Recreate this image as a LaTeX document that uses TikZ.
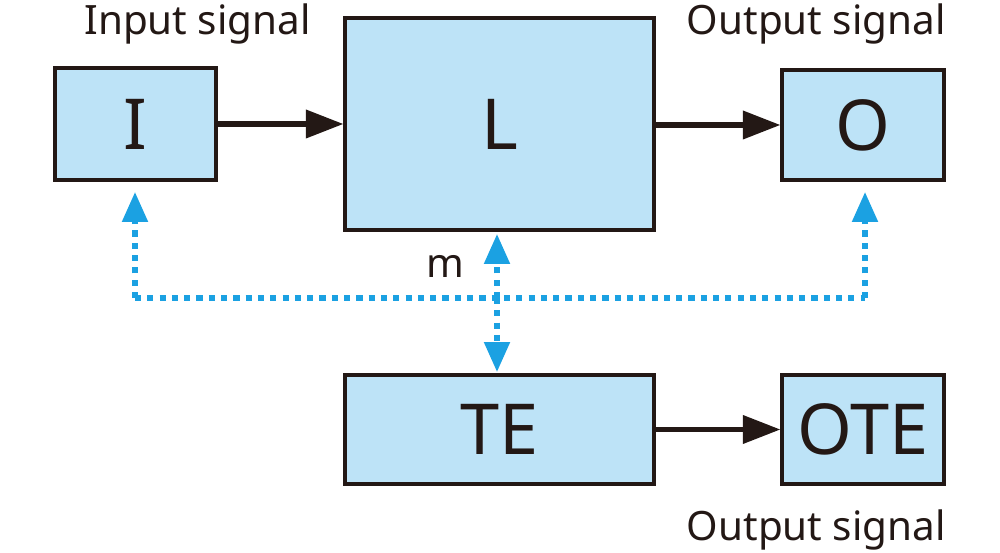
\documentclass[tikz,border=0pt]{standalone}
\usepackage{fontspec}
\setmainfont{Noto Sans}
\usetikzlibrary{arrows.meta}
\definecolor{boxfill}{HTML}{BDE3F7}
\definecolor{dotblue}{HTML}{1BA1E2}
\definecolor{ink}{HTML}{231815}
\begin{document}
\begin{tikzpicture}[x=0.02cm,y=-0.02cm,
  box/.style={draw=ink,fill=boxfill,line width=1.8pt,font=\fontsize{40}{40}\selectfont\bfseries,text=ink},
  lab/.style={font=\fontsize{23}{23}\selectfont,text=ink,inner sep=0},
  arr/.style={draw=ink,line width=3pt,-{Triangle[length=0.75cm,width=0.55cm]}},
  dot/.style={draw=dotblue,line width=3pt,dash pattern=on 3.5pt off 3.5pt},
  darr/.style={dot,-{Triangle[length=0.6cm,width=0.5cm]}}]
\useasboundingbox (0,0) rectangle (1000,553);
\node[box,minimum width=3.22cm,minimum height=2.24cm] (I) at (135.5,124) {I};
\node[box,minimum width=6.18cm,minimum height=4.24cm] (L) at (499.5,124) {L};
\node[box,minimum width=3.24cm,minimum height=2.2cm] (O) at (863,125) {O};
\node[box,minimum width=6.18cm,minimum height=2.18cm] (TE) at (499.5,429.5) {TE};
\node[box,minimum width=3.24cm,minimum height=2.18cm] (OTE) at (863,429.5) {OTE};
\draw[arr] (I.east) -- (L.west |- I.east);
\draw[arr] (L.east |- O.west) -- (O.west);
\draw[arr] (TE.east) -- (OTE.west);
\coordinate (a) at (135,298);
\coordinate (b) at (865,298);
\coordinate (c) at (497,298);
\draw[dot] (a) -- (b);
\draw[darr] (a) -- (135,192);
\draw[darr] (b) -- (865,192);
\draw[darr] (c) -- (497,234);
\draw[darr] (c) -- (497,372);
\node[lab,anchor=base west] (t1) at (84,35) {Input signal};
\node[lab,anchor=base east] (t2) at (946,35) {Output signal};
\node[lab,anchor=base east] (t3) at (946,540) {Output signal};
\node[lab,anchor=base] (m) at (445,278) {m};
\end{tikzpicture}
\end{document}
